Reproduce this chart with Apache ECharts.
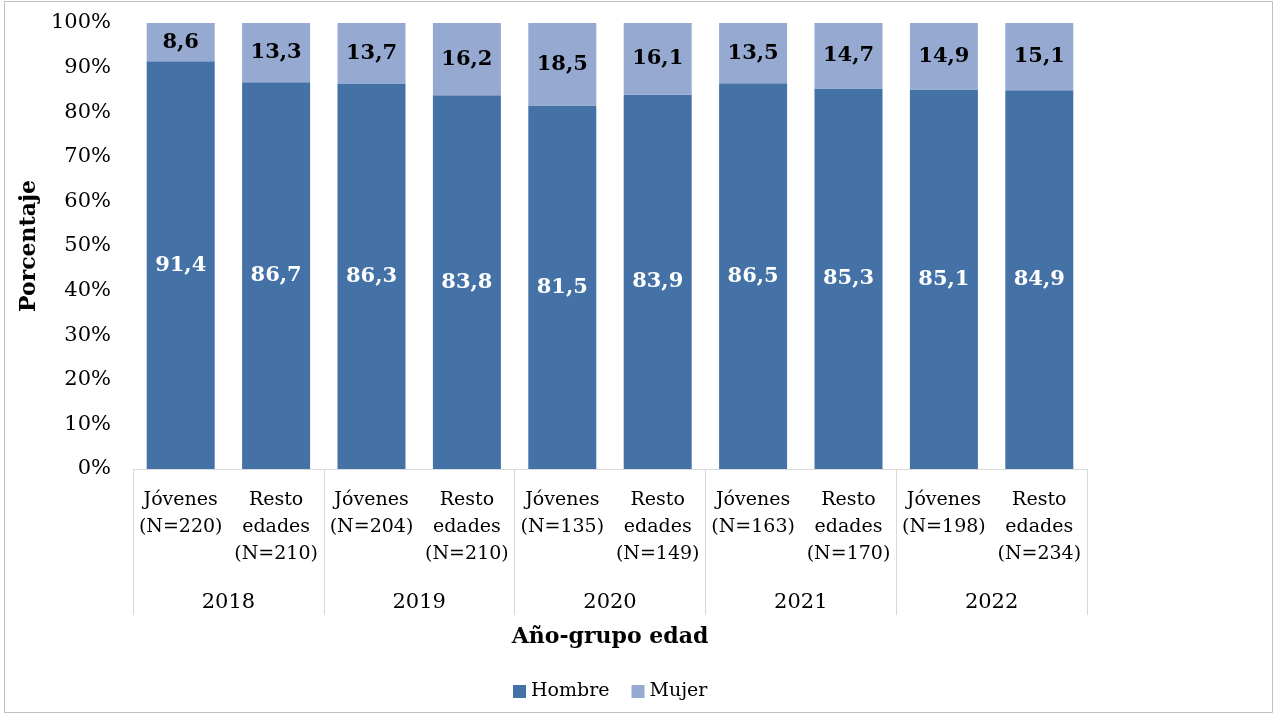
<!DOCTYPE html>
<html><head><meta charset="utf-8">
<script src="https://cdn.jsdelivr.net/npm/echarts@6/dist/echarts.min.js"></script>
<style>html,body{margin:0;padding:0;background:#fff}#c{width:1277px;height:715px}</style>
</head><body><div id="c"></div>
<script>
const groups = ['Jóvenes\n(N=220)','Resto\nedades\n(N=210)','Jóvenes\n(N=204)','Resto\nedades\n(N=210)','Jóvenes\n(N=135)','Resto\nedades\n(N=149)','Jóvenes\n(N=163)','Resto\nedades\n(N=170)','Jóvenes\n(N=198)','Resto\nedades\n(N=234)'];
const years = ['2018','2019','2020','2021','2022'];
const hombre = [91.4, 86.7, 86.3, 83.8, 81.5, 83.9, 86.5, 85.3, 85.1, 84.9];
const mujer = [8.6, 13.3, 13.7, 16.2, 18.5, 16.1, 13.5, 14.7, 14.9, 15.1];

const FONT = 'DejaVu Serif';
const chart = echarts.init(document.getElementById('c'), null, {renderer:'canvas'});
const fmt = p => String(p.value.toFixed(1)).replace('.', ',');
chart.setOption({
  animation:false,
  backgroundColor:'#fff',
  textStyle:{fontFamily:FONT},
  graphic:[{type:'rect', shape:{x:4.5,y:1.5,width:1268,height:711}, style:{fill:'none', stroke:'#bfbfbf', lineWidth:1}, silent:true}],
  grid:{left:133, right:190, top:23, bottom:246},
  legend:{left:508, top:677, itemWidth:13, itemHeight:13, itemGap:22, icon:'rect',
    textStyle:{fontFamily:FONT, fontSize:19, color:'#000'}, data:['Hombre','Mujer']},
  xAxis:[
    {type:'category', data:groups, position:'bottom',
     axisLine:{show:true, lineStyle:{color:'#d9d9d9', width:1}},
     axisTick:{show:false},
     axisLabel:{interval:0, margin:18, fontFamily:FONT, fontSize:19, color:'#000', lineHeight:27, verticalAlign:'top'},
     name:'Año-grupo edad', nameLocation:'middle', nameGap:157,
     nameTextStyle:{fontFamily:FONT, fontSize:22, fontWeight:'bold', color:'#000'}},
    {type:'category', data:years, position:'bottom', boundaryGap:true,
     axisLine:{show:false},
     axisTick:{show:true, length:146, interval:0, lineStyle:{color:'#d9d9d9', width:1}},
     axisLabel:{interval:0, margin:123, fontFamily:FONT, fontSize:21, color:'#000', verticalAlign:'top'}}
  ],
  yAxis:{type:'value', min:0, max:100, interval:10,
    axisLine:{show:false}, axisTick:{show:false}, splitLine:{show:false},
    axisLabel:{formatter:'{value}%', fontFamily:FONT, fontSize:21, color:'#000', margin:22},
    name:'Porcentaje', nameLocation:'middle', nameGap:92,
    nameTextStyle:{fontFamily:FONT, fontSize:22, fontWeight:'bold', color:'#000'}},
  series:[
    {name:'Hombre', type:'bar', stack:'t', data:hombre, barWidth:68, itemStyle:{color:'#4472A6'},
     label:{show:true, position:'inside', formatter:fmt, color:'#fff', fontFamily:FONT, fontSize:21, fontWeight:'bold'}},
    {name:'Mujer', type:'bar', stack:'t', data:mujer, barWidth:68, itemStyle:{color:'#95A9D1'},
     label:{show:true, position:'inside', formatter:fmt, color:'#000', fontFamily:FONT, fontSize:21, fontWeight:'bold'}}
  ]
});
</script></body></html>
